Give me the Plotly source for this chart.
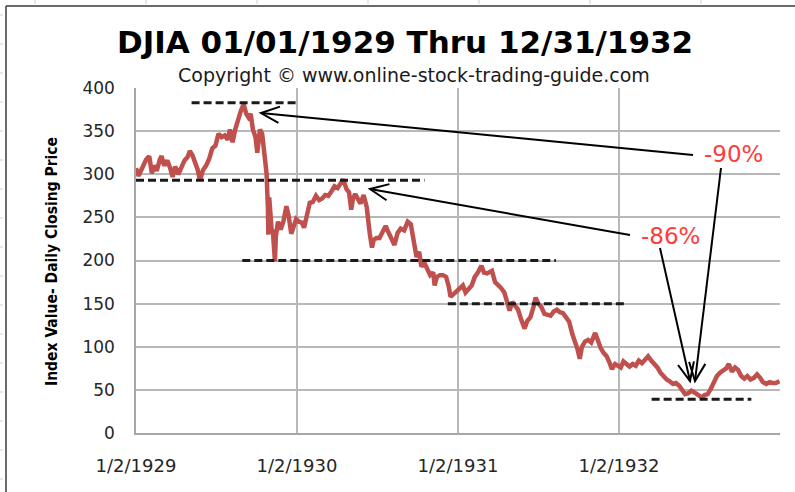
import math
import plotly.graph_objects as go

# ---------------- data ----------------
dates = [
    "1929-01-02", "1929-01-08", "1929-01-14", "1929-01-19", "1929-01-25", "1929-02-01", "1929-02-07",
    "1929-02-12", "1929-02-18", "1929-02-25", "1929-03-01", "1929-03-07", "1929-03-14", "1929-03-20",
    "1929-03-26", "1929-04-01", "1929-04-08", "1929-04-15", "1929-04-22", "1929-04-29", "1929-05-04",
    "1929-05-10", "1929-05-16", "1929-05-22", "1929-05-27", "1929-06-03", "1929-06-10", "1929-06-17",
    "1929-06-24", "1929-07-01", "1929-07-08", "1929-07-15", "1929-07-22", "1929-07-29", "1929-08-03",
    "1929-08-09", "1929-08-15", "1929-08-22", "1929-08-28", "1929-09-03", "1929-09-09", "1929-09-14",
    "1929-09-19", "1929-09-24", "1929-09-30", "1929-10-04", "1929-10-10", "1929-10-15", "1929-10-19",
    "1929-10-23", "1929-10-25", "1929-10-28", "1929-10-29", "1929-10-31", "1929-11-06", "1929-11-08",
    "1929-11-13", "1929-11-15", "1929-11-20", "1929-11-26", "1929-12-02", "1929-12-09", "1929-12-14",
    "1929-12-20", "1929-12-26", "1929-12-31",
    "1930-01-06", "1930-01-13", "1930-01-18", "1930-01-24", "1930-01-31", "1930-02-07", "1930-02-14",
    "1930-02-21", "1930-02-28", "1930-03-07", "1930-03-14", "1930-03-21", "1930-03-28", "1930-04-04",
    "1930-04-11", "1930-04-17", "1930-04-24", "1930-04-30", "1930-05-05", "1930-05-09", "1930-05-14",
    "1930-05-20", "1930-05-26", "1930-06-02", "1930-06-09", "1930-06-16", "1930-06-21", "1930-06-25",
    "1930-07-01", "1930-07-08", "1930-07-15", "1930-07-22", "1930-07-28", "1930-08-04", "1930-08-11",
    "1930-08-18", "1930-08-25", "1930-09-02", "1930-09-10", "1930-09-17", "1930-09-24", "1930-09-30",
    "1930-10-06", "1930-10-11", "1930-10-18", "1930-10-24", "1930-10-31", "1930-11-07", "1930-11-10",
    "1930-11-15", "1930-11-22", "1930-11-29", "1930-12-06", "1930-12-12", "1930-12-16", "1930-12-23",
    "1930-12-31",
    "1931-01-06", "1931-01-13", "1931-01-19", "1931-01-26", "1931-02-02", "1931-02-09", "1931-02-16",
    "1931-02-24", "1931-03-02", "1931-03-09", "1931-03-16", "1931-03-20", "1931-03-27", "1931-04-03",
    "1931-04-10", "1931-04-17", "1931-04-24", "1931-04-29", "1931-05-05", "1931-05-11", "1931-05-18",
    "1931-05-25", "1931-06-02", "1931-06-08", "1931-06-15", "1931-06-22", "1931-06-27", "1931-07-03",
    "1931-07-10", "1931-07-17", "1931-07-24", "1931-07-31", "1931-08-07", "1931-08-14", "1931-08-21",
    "1931-08-28", "1931-09-04", "1931-09-11", "1931-09-18", "1931-09-24", "1931-09-30", "1931-10-05",
    "1931-10-10", "1931-10-17", "1931-10-24", "1931-10-31", "1931-11-09", "1931-11-14", "1931-11-21",
    "1931-11-28", "1931-12-05", "1931-12-12", "1931-12-17", "1931-12-24", "1931-12-31",
    "1932-01-06", "1932-01-12", "1932-01-19", "1932-01-26", "1932-02-02", "1932-02-09", "1932-02-16",
    "1932-02-23", "1932-03-01", "1932-03-08", "1932-03-15", "1932-03-22", "1932-03-29", "1932-04-05",
    "1932-04-12", "1932-04-19", "1932-04-26", "1932-05-03", "1932-05-10", "1932-05-17", "1932-05-24",
    "1932-05-31", "1932-06-07", "1932-06-14", "1932-06-21", "1932-06-28", "1932-07-08", "1932-07-14",
    "1932-07-21", "1932-07-28", "1932-08-04", "1932-08-11", "1932-08-18", "1932-08-25", "1932-09-01",
    "1932-09-07", "1932-09-14", "1932-09-21", "1932-09-28", "1932-10-05", "1932-10-12", "1932-10-19",
    "1932-10-26", "1932-11-03", "1932-11-10", "1932-11-17", "1932-11-23", "1932-12-01", "1932-12-08",
    "1932-12-15", "1932-12-22", "1932-12-31",
]
closes = [
    307, 298, 305, 312, 317, 321, 301,
    310, 304, 317, 321, 310, 316, 308,
    297, 309, 300, 308, 316, 320, 327,
    322, 314, 305, 293, 305, 310, 318,
    330, 333, 347, 343, 345, 340, 352,
    337, 352, 365, 374, 381, 370, 366,
    370, 352, 343, 325, 352, 347, 323,
    305, 301, 261, 230, 273, 232, 236,
    199, 228, 245, 236, 245, 263, 252,
    231, 240, 248,
    245, 244, 238, 250, 267, 268, 275,
    270, 272, 276, 275, 280, 286, 284,
    290, 294, 283, 279, 259, 272, 277,
    270, 266, 276, 262, 231, 215, 224,
    226, 226, 233, 240, 233, 224, 218,
    232, 237, 235, 245, 242, 224, 204,
    210, 193, 197, 191, 183, 186, 171,
    181, 183, 183, 181, 170, 158, 161,
    165,
    169, 171, 163, 168, 171, 181, 186,
    194, 186, 185, 187, 188, 175, 172,
    168, 163, 148, 142, 152, 148, 143,
    132, 121, 130, 134, 146, 157, 150,
    146, 138, 137, 136, 141, 143, 140,
    139, 134, 129, 115, 107, 97, 86,
    100, 106, 108, 105, 116, 109, 99,
    93, 89, 81, 74, 80, 78,
    76, 83, 80, 77, 80, 78, 84,
    81, 85, 89, 84, 80, 76, 70,
    66, 62, 60, 57, 58, 55, 50,
    45, 46, 49, 47, 44, 41, 44,
    45, 51, 58, 66, 70, 72, 75,
    80, 71, 76, 73, 66, 63, 66,
    62, 64, 68, 64, 59, 57, 59,
    58, 58, 60,
]

x_tick_vals = ["1929-01-02", "1930-01-02", "1931-01-02", "1932-01-02"]
x_tick_text = ["1/2/1929", "1/2/1930", "1/2/1931", "1/2/1932"]
y_tick_vals = [0, 50, 100, 150, 200, 250, 300, 350, 400]

# dashed reference levels
level_values = [383, 293, 200, 150, 39]
level_starts = ["1929-05-08", "1929-01-02", "1929-08-31", "1930-12-10", "1932-03-16"]
level_ends = ["1929-12-30", "1930-10-18", "1931-08-12", "1932-01-15", "1932-10-28"]

drop_labels = ["-90%", "-86%"]

TITLE = "DJIA 01/01/1929 Thru 12/31/1932"
SUBTITLE = "Copyright \u00a9 www.online-stock-trading-guide.com"
Y_TITLE = "Index Value- Daily Closing Price"

# ---------------- layout geometry ----------------
W, H = 795, 492
ML, MR, MT, MB = 136, 15, 88, 59
PW, PH = W - ML - MR, H - MT - MB


def px(x):
    return (x - ML) / PW


def py(y):
    return 1 - (y - MT) / PH


fig = go.Figure()
fig.add_trace(go.Scatter(
    x=dates, y=closes, mode="lines",
    line=dict(color="#c0504d", width=4.5),
    hoverinfo="x+y", showlegend=False,
))

shapes = []
# dashed levels
for v, s, e in zip(level_values, level_starts, level_ends):
    shapes.append(dict(type="line", xref="x", yref="y", x0=s, x1=e, y0=v, y1=v,
                       line=dict(color="#1a1a1a", width=3, dash="8px,4px"), layer="above"))

# arrows (pixel geometry: tail -> tip)
arrows = [((693, 155), (261, 113)), ((630, 235), (370, 189)),
          ((660, 248), (690, 381)), ((721, 168), (695, 381))]
for (tx, ty), (hx, hy) in arrows:
    shapes.append(dict(type="line", xref="paper", yref="paper",
                       x0=px(tx), y0=py(ty), x1=px(hx), y1=py(hy),
                       line=dict(color="black", width=2)))
    ang = math.atan2(ty - hy, tx - hx)
    L = 20
    pts = []
    for d in (0.42, -0.42):
        pts.append((hx + L * math.cos(ang + d), hy + L * math.sin(ang + d)))
    path = "M {:.5f} {:.5f} L {:.5f} {:.5f} L {:.5f} {:.5f}".format(
        px(pts[0][0]), py(pts[0][1]), px(hx), py(hy), px(pts[1][0]), py(pts[1][1]))
    shapes.append(dict(type="path", xref="paper", yref="paper", path=path,
                       line=dict(color="black", width=2)))

# outer frame
shapes.append(dict(type="line", xref="paper", yref="paper", x0=px(6), x1=px(800), y0=py(6), y1=py(6),
                   line=dict(color="#3a3a3a", width=1.5)))
shapes.append(dict(type="line", xref="paper", yref="paper", x0=px(6), x1=px(6), y0=py(6), y1=py(500),
                   line=dict(color="#3a3a3a", width=1.5)))
# faint sheet ticks
for tx in range(35, 795, 111):
    shapes.append(dict(type="line", xref="paper", yref="paper", x0=px(tx), x1=px(tx), y0=py(0), y1=py(4),
                       line=dict(color="#c5cde0", width=1)))
for ty in range(15, 492, 29):
    shapes.append(dict(type="line", xref="paper", yref="paper", x0=px(0), x1=px(3), y0=py(ty), y1=py(ty),
                       line=dict(color="#c5cde0", width=1)))

annotations = [
    dict(text=TITLE, xref="paper", yref="paper", x=px(405), y=py(42.5), showarrow=False,
         xanchor="center", yanchor="middle",
         font=dict(family="DejaVu Sans", size=31, color="#000000", weight="bold")),
    dict(text=SUBTITLE, xref="paper", yref="paper", x=px(414), y=py(74.5), showarrow=False,
         xanchor="center", yanchor="middle",
         font=dict(family="DejaVu Sans", size=19, color="#1a1a1a")),
    dict(text=Y_TITLE, xref="paper", yref="paper", x=px(52), y=py(262), showarrow=False,
         xanchor="center", yanchor="middle", textangle=-90,
         font=dict(family="Liberation Sans Narrow, DejaVu Sans Condensed, Arial Narrow", size=15.5,
                   color="#000000", weight="bold")),
    dict(text=drop_labels[0], xref="paper", yref="paper", x=px(733), y=py(154), showarrow=False,
         xanchor="center", yanchor="middle",
         font=dict(family="DejaVu Sans", size=23, color="#ff3b3b")),
    dict(text=drop_labels[1], xref="paper", yref="paper", x=px(670), y=py(236), showarrow=False,
         xanchor="center", yanchor="middle",
         font=dict(family="DejaVu Sans", size=23, color="#ff3b3b")),
]

fig.update_layout(
    width=W, height=H,
    margin=dict(l=ML, r=MR, t=MT, b=MB, pad=0),
    paper_bgcolor="white", plot_bgcolor="white",
    shapes=shapes, annotations=annotations,
    xaxis=dict(type="date", range=["1929-01-02", "1933-01-01"],
               tickvals=x_tick_vals, ticktext=x_tick_text,
               showgrid=True, gridcolor="#b8b8b8", gridwidth=1.5,
               showline=True, linecolor="#a6a6a6", linewidth=1.5,
               ticks="", ticklabelstandoff=16, zeroline=False,
               tickfont=dict(family="DejaVu Sans", size=18, color="#262626")),
    yaxis=dict(range=[0, 400], tickvals=y_tick_vals,
               showgrid=True, gridcolor="#b8b8b8", gridwidth=1.5,
               showline=True, linecolor="#a6a6a6", linewidth=1.5,
               ticks="", ticklabelstandoff=16, zeroline=False,
               tickfont=dict(family="DejaVu Sans", size=17, color="#262626")),
)

fig.write_html(
    "out.html",
    config={"displayModeBar": False},
    post_script="document.body.style.margin='0';document.body.style.padding='0';"
                "document.documentElement.style.margin='0';",
)
